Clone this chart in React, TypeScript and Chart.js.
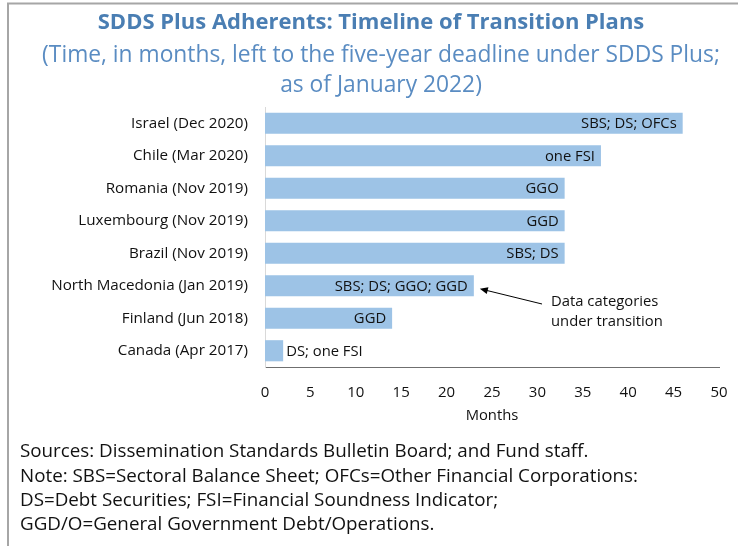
import React, { useEffect, useRef } from "react";
import { Chart, registerables } from "chart.js";

Chart.register(...registerables);

const categories = [
  "Israel (Dec 2020)",
  "Chile (Mar 2020)",
  "Romania (Nov 2019)",
  "Luxembourg (Nov 2019)",
  "Brazil (Nov 2019)",
  "North Macedonia (Jan 2019)",
  "Finland (Jun 2018)",
  "Canada (Apr 2017)",
];
const monthsLeft = [46, 37, 33, 33, 33, 23, 14, 2];
const barLabels = [
  "SBS; DS; OFCs",
  "one FSI",
  "GGO",
  "GGD",
  "SBS; DS",
  "SBS; DS; GGO; GGD",
  "GGD",
  "DS; one FSI",
];
const xMin = 0;
const xMax = 50;
const xStep = 5;
const axisTitle = "Months";
const titleText = "SDDS Plus Adherents: Timeline of Transition Plans";
const subtitleLines = [
  "(Time, in months, left to the five-year deadline under SDDS Plus;",
  "as of January 2022)",
];
const footerLines = [
  "Sources: Dissemination Standards Bulletin Board; and Fund staff.",
  "Note: SBS=Sectoral Balance Sheet; OFCs=Other Financial Corporations:",
  "DS=Debt Securities; FSI=Financial Soundness Indicator;",
  "GGD/O=General Government Debt/Operations.",
];
const annotationLines = ["Data categories", "under transition"];
const annotationCategory = "North Macedonia (Jan 2019)";
const annotationTextValue = 31.5;

const FONT = "'Open Sans', 'Noto Sans', sans-serif";
const BAR = "#9dc3e6";
const TITLE_BLUE = "#4a7eb3";
const SUB_BLUE = "#5a8cc2";
const TEXT = "#111111";

const W = 738;
const H = 546;

const decor = {
  id: "decor",
  afterDatasetsDraw(chart: any) {
    const ctx = chart.ctx as CanvasRenderingContext2D;
    const meta = chart.getDatasetMeta(0);
    ctx.save();
    ctx.font = `14.8px ${FONT}`;
    ctx.fillStyle = TEXT;
    ctx.textBaseline = "middle";
    meta.data.forEach((bar: any, i: number) => {
      const p = bar.getProps(["x", "y", "base"], true);
      const width = p.x - p.base;
      const tw = ctx.measureText(barLabels[i]).width;
      if (tw + 10 < width) {
        ctx.textAlign = "right";
        ctx.fillText(barLabels[i], p.x - 6, p.y + 1);
      } else {
        ctx.textAlign = "left";
        ctx.fillText(barLabels[i], p.x + 3, p.y + 1);
      }
    });
    ctx.restore();
  },
  afterDraw(chart: any) {
    const ctx = chart.ctx as CanvasRenderingContext2D;
    ctx.save();
    // frame (left & top edges)
    ctx.strokeStyle = "#a6a6a6";
    ctx.lineWidth = 2;
    ctx.beginPath();
    ctx.moveTo(W, 3.5);
    ctx.lineTo(8, 3.5);
    ctx.lineTo(8, H);
    ctx.stroke();

    // title
    ctx.textAlign = "center";
    ctx.textBaseline = "middle";
    ctx.fillStyle = TITLE_BLUE;
    ctx.font = `bold 22px ${FONT}`;
    ctx.fillText(titleText, 371, 22.5);
    ctx.fillStyle = SUB_BLUE;
    ctx.font = `22.8px ${FONT}`;
    subtitleLines.forEach((l, i) => ctx.fillText(l, 381, 56 + i * 30));

    // footer
    ctx.textAlign = "left";
    ctx.fillStyle = TEXT;
    ctx.font = `18.8px ${FONT}`;
    footerLines.forEach((l, i) => ctx.fillText(l, 20, 452 + i * 24.3));

    // annotation
    const meta = chart.getDatasetMeta(0);
    const idx = categories.indexOf(annotationCategory);
    const bar = meta.data[idx].getProps(["x", "y"], true);
    const xs = chart.scales.x;
    const ys = chart.scales.y;
    const tx = xs.getPixelForValue(annotationTextValue);
    const ty = ys.getPixelForValue(idx + 0.5);
    ctx.font = `14.8px ${FONT}`;
    annotationLines.forEach((l, i) => ctx.fillText(l, tx, ty + i * 20));
    const tipX = bar.x + 6;
    const tipY = bar.y + 3;
    const tailX = tx - 9;
    const tailY = ty + 2;
    const ang = Math.atan2(tipY - tailY, tipX - tailX);
    ctx.strokeStyle = "#000";
    ctx.lineWidth = 1;
    ctx.beginPath();
    ctx.moveTo(tailX, tailY);
    ctx.lineTo(tipX - 6 * Math.cos(ang), tipY - 6 * Math.sin(ang));
    ctx.stroke();
    ctx.fillStyle = "#000";
    ctx.beginPath();
    ctx.moveTo(tipX, tipY);
    ctx.lineTo(
      tipX - 8 * Math.cos(ang) + 3.5 * Math.sin(ang),
      tipY - 8 * Math.sin(ang) - 3.5 * Math.cos(ang)
    );
    ctx.lineTo(
      tipX - 8 * Math.cos(ang) - 3.5 * Math.sin(ang),
      tipY - 8 * Math.sin(ang) + 3.5 * Math.cos(ang)
    );
    ctx.closePath();
    ctx.fill();
    ctx.restore();
  },
};

export default function App() {
  const ref = useRef<HTMLCanvasElement>(null);
  useEffect(() => {
    document.body.style.margin = "0";
    const canvas = ref.current!;
    const padLeft = 10;
    const chart = new Chart(canvas, {
      type: "bar",
      data: {
        labels: categories,
        datasets: [
          {
            data: monthsLeft,
            backgroundColor: BAR,
            borderWidth: 0,
            barPercentage: 0.65,
            categoryPercentage: 1,
          },
        ],
      },
      options: {
        indexAxis: "y",
        responsive: false,
        animation: false,
        devicePixelRatio: 1,
        layout: { padding: { left: padLeft, top: 107, right: 19, bottom: 119 } },
        plugins: {
          legend: { display: false },
          title: { display: false },
          tooltip: { enabled: false },
        },
        scales: {
          x: {
            type: "linear",
            min: xMin,
            max: xMax,
            grid: { display: false, drawTicks: true, tickLength: 17 },
            border: { display: true, color: "#6f6f6f", width: 1 },
            ticks: {
              stepSize: xStep,
              color: TEXT,
              font: { family: FONT, size: 15 },
              padding: 0,
            },
            title: {
              display: true,
              text: axisTitle,
              color: TEXT,
              font: { family: FONT, size: 14.8 },
              padding: { top: 2, bottom: 2 },
            },
            afterFit: (s: any) => {
              s.height = 60;
            },
          },
          y: {
            type: "category",
            grid: { display: false, drawTicks: false },
            border: { display: true, color: "#d9d9d9", width: 1 },
            ticks: {
              color: TEXT,
              font: { family: FONT, size: 15.2 },
              padding: 17,
            },
            afterFit: (s: any) => {
              s.width = 265 - padLeft;
            },
          },
        },
      },
      plugins: [decor],
    } as any);
    return () => chart.destroy();
  }, []);
  return (
    <canvas
      ref={ref}
      width={W}
      height={H}
      style={{ display: "block", width: W, height: H }}
    />
  );
}
